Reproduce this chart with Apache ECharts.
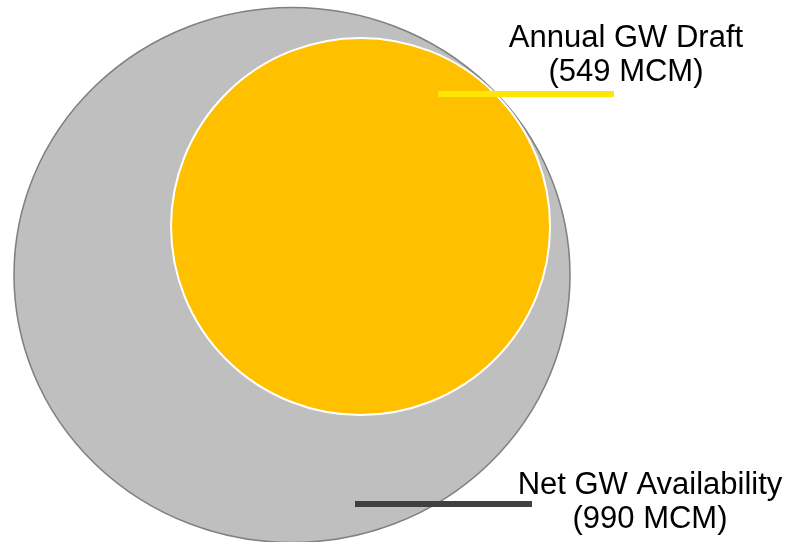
<!DOCTYPE html>
<html>
<head>
<meta charset="utf-8">
<script src="https://cdn.jsdelivr.net/npm/echarts@6/dist/echarts.min.js"></script>
<style>
html, body { margin: 0; padding: 0; background: #fff; }
#chart { width: 790px; height: 542px; }
</style>
</head>
<body>
<div id="chart"></div>
<script>
// data
var names = ['Net GW Availability', 'Annual GW Draft'];
var values = [990, 549];
var unit = 'MCM';

var fillColors = ['#bfbfbf', '#ffc000'];
var borderColors = ['#7f7f7f', '#ffffff'];
var leaderColors = ['#404040', '#ffe600'];

// layout (pixels, grid spans the whole canvas)
var W = 790, H = 542;
var outerCenter = [292, 275];
var outerSize = [556, 535];
var innerSize = [379, 377];      // inner bubble drawn a bit smaller than area-true
var gap = 84;                    // inner bubble touches outer at upper right
var tangentAngle = -35.3 * Math.PI / 180;

var innerCenter = [
    outerCenter[0] + gap * Math.cos(tangentAngle),
    outerCenter[1] + gap * Math.sin(tangentAngle)
];

var centers = [outerCenter, innerCenter];
var sizes = [outerSize, innerSize];
var labelOffsets = [[358, 227], [626 - innerCenter[0], 55 - innerCenter[1]]];

var series = [];
for (var i = 0; i < names.length; i++) {
    series.push({
        name: names[i],
        type: 'scatter',
        z: 2 + i,
        symbol: 'circle',
        symbolSize: sizes[i],
        silent: true,
        itemStyle: {
            color: fillColors[i],
            borderColor: borderColors[i],
            borderWidth: i == 0 ? 1.5 : 2,
            opacity: 1
        },
        label: {
            show: true,
            position: 'inside',
            offset: labelOffsets[i],
            align: 'center',
            verticalAlign: 'middle',
            fontFamily: 'Liberation Sans, Arial, sans-serif',
            fontSize: 31,
            lineHeight: 34,
            color: '#000',
            formatter: function (p) {
                return p.seriesName + '\n(' + p.value[2] + ' ' + unit + ')';
            }
        },
        data: [[centers[i][0], centers[i][1], values[i]]]
    });
}

// leader lines under the labels
var leaders = [
    {x1: 355, x2: 532, y: 504},
    {x1: 438, x2: 614, y: 94}
];
var graphics = leaders.map(function (l, i) {
    return {
        type: 'line',
        z: 100,
        shape: {x1: l.x1, y1: l.y, x2: l.x2, y2: l.y},
        style: {stroke: leaderColors[i], lineWidth: 6}
    };
});

var option = {
    animation: false,
    backgroundColor: '#fff',
    grid: {left: 0, right: 0, top: 0, bottom: 0},
    xAxis: {type: 'value', min: 0, max: W, show: false},
    yAxis: {type: 'value', min: 0, max: H, inverse: true, show: false},
    graphic: graphics,
    series: series
};

var myChart = echarts.init(document.getElementById('chart'));
myChart.setOption(option);
</script>
</body>
</html>
